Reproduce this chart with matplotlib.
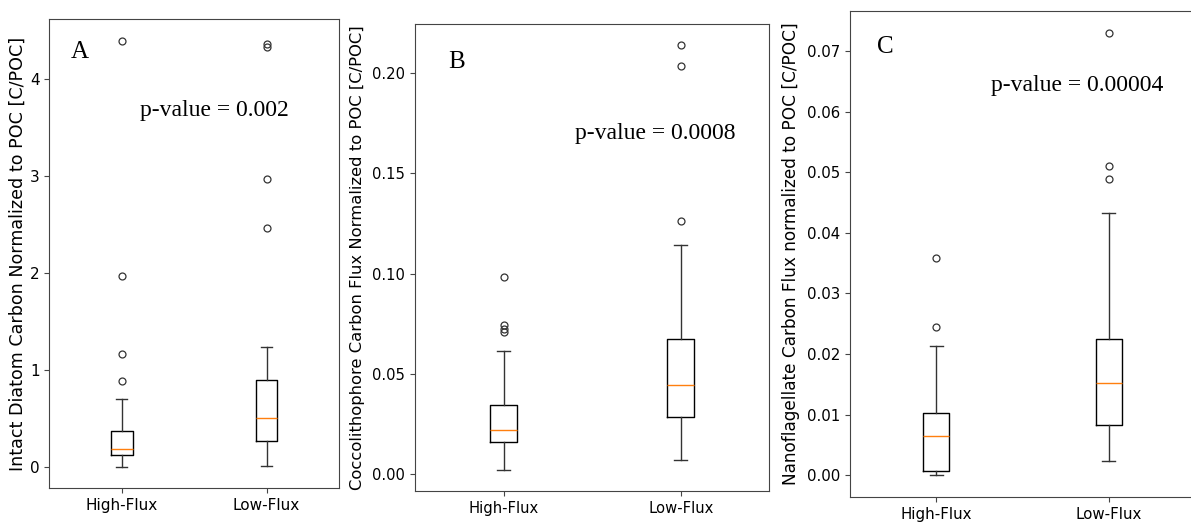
import matplotlib
matplotlib.use("Agg")
import matplotlib.pyplot as plt

groups = ["High-Flux", "Low-Flux"]

# panel A - intact diatom carbon
diatom_whislo = [0.0, 0.014]
diatom_q1 = [0.12, 0.272]
diatom_med = [0.19, 0.503]
diatom_q3 = [0.369, 0.90]
diatom_whishi = [0.70, 1.24]
diatom_fliers = [[0.886, 1.17, 1.97, 4.40], [2.47, 2.97, 4.33, 4.37]]

# panel B - coccolithophore carbon flux
cocco_whislo = [0.0021, 0.0071]
cocco_q1 = [0.0161, 0.0282]
cocco_med = [0.0218, 0.0444]
cocco_q3 = [0.0343, 0.0672]
cocco_whishi = [0.0615, 0.1142]
cocco_fliers = [[0.0710, 0.0726, 0.0746, 0.0985], [0.1262, 0.2037, 0.2140]]

# panel C - nanoflagellate carbon flux
nano_whislo = [0.0, 0.0024]
nano_q1 = [0.0007, 0.0082]
nano_med = [0.0065, 0.0152]
nano_q3 = [0.0102, 0.0225]
nano_whishi = [0.0213, 0.0432]
nano_fliers = [[0.0244, 0.0358], [0.0489, 0.0510, 0.0730]]

W, H = 1191, 531


def make_stats(whislo, q1, med, q3, whishi, fliers):
    stats = []
    for i, g in enumerate(groups):
        stats.append(dict(label=g, whislo=whislo[i], q1=q1[i], med=med[i],
                          q3=q3[i], whishi=whishi[i], fliers=fliers[i]))
    return stats


def add_panel(fig, box, stats, ylabel, letter, letter_pos, ptext, ptext_pos,
              fs, lfs, label_x):
    # box = (left, top, right, bottom) in pixels
    l, t, r, b = box
    ax = fig.add_axes([l / W, 1 - b / H, (r - l) / W, (b - t) / H])
    ax.bxp(stats,
           boxprops=dict(color="black", linewidth=1.0),
           whiskerprops=dict(color="#333333", linewidth=1.0),
           capprops=dict(color="#333333", linewidth=1.0),
           medianprops=dict(color="#ff7f0e", linewidth=1.0),
           flierprops=dict(marker="o", markerfacecolor="none",
                           markeredgecolor="#333333", markersize=5,
                           markeredgewidth=0.9))
    for s in ax.spines.values():
        s.set_color("#444444")
    ax.tick_params(labelsize=fs, color="#444444", length=3.5)
    ax.set_ylabel(ylabel, fontsize=lfs)
    ax.yaxis.set_label_coords(label_x, 0.5)
    ax.text(letter_pos[0], letter_pos[1], letter, transform=ax.transAxes,
            fontsize=18, family="Liberation Serif", ha="left", va="center")
    ax.text(ptext_pos[0], ptext_pos[1], ptext, transform=ax.transAxes,
            fontsize=17, family="Liberation Serif", ha="left", va="center")
    return ax


fig = plt.figure(figsize=(W / 100, H / 100), dpi=100)

add_panel(fig, (49.3, 19.3, 339, 488.3),
          make_stats(diatom_whislo, diatom_q1, diatom_med, diatom_q3,
                     diatom_whishi, diatom_fliers),
          "Intact Diatom Carbon Normalized to POC [C/POC]",
          "A", (0.075, 0.931), "p-value = 0.002", (0.313, 0.805),
          11, 12.6, -0.077)

ax_b = add_panel(fig, (415, 24, 769.3, 491),
                 make_stats(cocco_whislo, cocco_q1, cocco_med, cocco_q3,
                            cocco_whishi, cocco_fliers),
                 "Coccolithophore Carbon Flux Normalized to POC [C/POC]",
                 "B", (0.094, 0.918), "p-value = 0.0008", (0.453, 0.766),
                 10.6, 11.8, -0.141)
ax_b.set_yticks([0.0, 0.05, 0.10, 0.15, 0.20])
ax_b.set_yticklabels(["0.00", "0.05", "0.10", "0.15", "0.20"])

add_panel(fig, (850, 10.7, 1195, 497.3),
          make_stats(nano_whislo, nano_q1, nano_med, nano_q3,
                     nano_whishi, nano_fliers),
          "Nanoflagellate Carbon Flux normalized to POC [C/POC]",
          "C", (0.077, 0.926), "p-value = 0.00004", (0.408, 0.847),
          10.8, 12.2, -0.145)

fig.savefig("out.png", dpi=100)
